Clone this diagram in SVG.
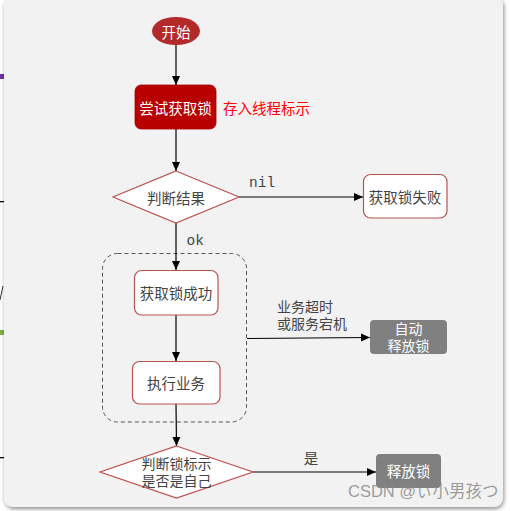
<svg xmlns="http://www.w3.org/2000/svg" width="510" height="511" viewBox="0 0 510 511">
<defs>
<filter id="sh" x="-5%" y="-5%" width="110%" height="110%">
<feGaussianBlur in="SourceAlpha" stdDeviation="2"/>
<feOffset dx="1" dy="2"/>
<feComponentTransfer><feFuncA type="linear" slope="0.45"/></feComponentTransfer>
<feMerge><feMergeNode/><feMergeNode in="SourceGraphic"/></feMerge>
</filter>
<marker id="ah" markerWidth="10" markerHeight="10" refX="9" refY="5" orient="auto" markerUnits="userSpaceOnUse">
<path d="M0,1 L9,5 L0,9 Z" fill="#000"/>
</marker>
</defs>
<style>
.t{font-family:"Noto Sans CJK SC","Microsoft YaHei",sans-serif;font-size:14.5px;text-anchor:middle;dominant-baseline:central;fill:#444}
.w{fill:#fff}
.s{font-size:14px}
.m{font-family:"Liberation Mono","DejaVu Sans Mono",monospace;font-size:14.5px;fill:#444;dominant-baseline:central}
.box{fill:#fff;stroke:#b85450;stroke-width:1.2}
.gray{fill:#808080}
.e{stroke:#000;stroke-width:1.2;fill:none;marker-end:url(#ah)}
</style>
<rect x="0" y="0" width="510" height="511" fill="#fff"/>
<rect x="0" y="74" width="4" height="5" fill="#7030a0"/>
<rect x="0" y="201" width="4" height="1.3" fill="#000"/>
<path d="M0,300 L3,286" stroke="#333" stroke-width="1"/>
<rect x="0" y="330" width="4" height="5" fill="#7cb342"/>
<rect x="0" y="457" width="4" height="1.3" fill="#000"/>
<rect x="4" y="-4" width="499" height="511" rx="9" fill="#f2f2f2" filter="url(#sh)"/>

<g id="container">
<rect x="102.5" y="253.5" width="144" height="168.5" rx="15" fill="none" stroke="#555" stroke-width="1" stroke-dasharray="4,3"/>
</g>

<g id="connectors">
<line class="e" x1="176" y1="45" x2="176" y2="85"/>
<line class="e" x1="176" y1="129" x2="176" y2="171"/>
<line class="e" x1="239" y1="197" x2="363" y2="197"/>
<line class="e" x1="176" y1="223" x2="176" y2="270"/>
<line class="e" x1="176" y1="315" x2="176" y2="361"/>
<line class="e" x1="247" y1="338.5" x2="370" y2="337.5"/>
<line class="e" x1="176" y1="404" x2="176.5" y2="446"/>
<line class="e" x1="253" y1="472" x2="376" y2="472"/>
<text class="m" x="249" y="183">nil</text>
<text class="m" x="186.5" y="241">ok</text>
<text class="t s" x="277" y="306" style="text-anchor:start">业务超时<tspan x="277" dy="17">或服务宕机</tspan></text>
<text class="t" x="311" y="457">是</text>
</g>

<g id="start">
<ellipse cx="176" cy="31" rx="24" ry="14" fill="#b22a2a"/>
<text class="t w" x="176" y="31">开始</text>
</g>

<g id="try-lock">
<rect x="135" y="85" width="81" height="44" rx="6" fill="#b80000" stroke="#a00" stroke-width="0.8"/>
<text class="t w" x="175.5" y="107">尝试获取锁</text>
</g>
<g id="note">
<text class="t" x="223" y="107" style="text-anchor:start;fill:#ff0000">存入线程标示</text>
</g>

<g id="judge-result">
<polygon points="176,171 239,197 176,223 113,197" fill="#fff" stroke="#b85450" stroke-width="1.2"/>
<text class="t" x="176" y="197">判断结果</text>
</g>

<g id="lock-fail">
<rect class="box" x="363.5" y="174.5" width="83.5" height="43.5" rx="7"/>
<text class="t" x="405" y="196">获取锁失败</text>
</g>

<g id="lock-success">
<rect class="box" x="134.5" y="270.5" width="83.5" height="44.5" rx="7"/>
<text class="t" x="176" y="292">获取锁成功</text>
</g>

<g id="do-business">
<rect class="box" x="132.5" y="361.5" width="87.5" height="42.5" rx="7"/>
<text class="t" x="176" y="382">执行业务</text>
</g>

<g id="auto-release">
<rect class="gray" x="370" y="320" width="77" height="34" rx="4"/>
<text class="t w s" x="408.5" y="328">自动<tspan x="408.5" dy="17">释放锁</tspan></text>
</g>

<g id="judge-owner">
<polygon points="176.5,446 253,472 176.5,498 100,472" fill="#fff" stroke="#c0504d" stroke-width="1.2"/>
<text class="t s" x="176.5" y="463">判断锁标示<tspan x="176.5" dy="17">是否是自己</tspan></text>
</g>

<g id="release">
<rect class="gray" x="376" y="454" width="65" height="34" rx="4"/>
<text class="t w" x="408.5" y="470">释放锁</text>
</g>

<text x="348" y="497" style="font-family:'Liberation Sans','Noto Sans CJK SC',sans-serif;font-size:16.5px;fill:#8a8a8a;fill-opacity:0.85">CSDN @ぃ小男孩つ</text>
</svg>
